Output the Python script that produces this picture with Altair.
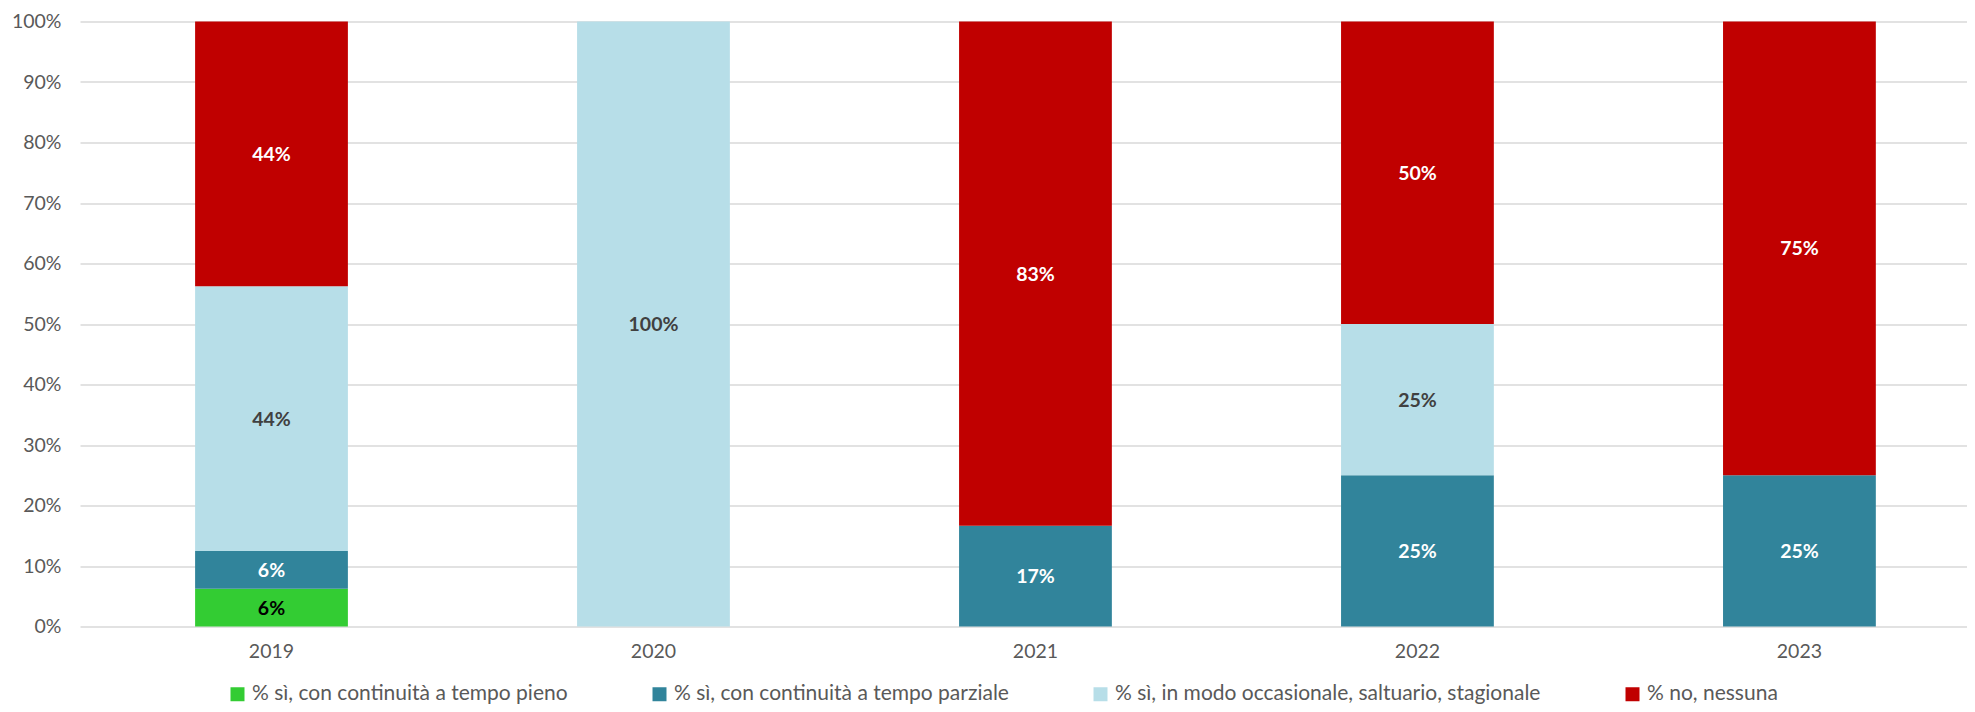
import altair as alt
import pandas as pd

# ---- data ----
years = ["2019", "2020", "2021", "2022", "2023"]
series = [
    "% sì, con continuità a tempo pieno",
    "% sì, con continuità a tempo parziale",
    "% sì, in modo occasionale, saltuario, stagionale",
    "% no, nessuna",
]
full_time = [0.0625, 0.0, 0.0, 0.0, 0.0]
part_time = [0.0625, 0.0, 0.1667, 0.25, 0.25]
occasional = [0.4375, 1.0, 0.0, 0.25, 0.0]
no_work = [0.4375, 0.0, 0.8333, 0.50, 0.75]
y_ticks = [0, 0.1, 0.2, 0.3, 0.4, 0.5, 0.6, 0.7, 0.8, 0.9, 1.0]

bar_colors = ["#33CC33", "#31849B", "#B7DEE8", "#C00000"]
label_colors = ["#000000", "#FFFFFF", "#404040", "#FFFFFF"]
FONT = "Lato"
GREY = "#595959"

rows = []
for si, (s, vals) in enumerate(zip(series, [full_time, part_time, occasional, no_work])):
    for yr, v in zip(years, vals):
        rows.append({"year": yr, "series": s, "order": si, "value": v})
df = pd.DataFrame(rows)

base = (
    alt.Chart(df)
    .transform_stack(
        stack="value",
        groupby=["year"],
        as_=["v0", "v1"],
        sort=[alt.SortField("order", order="ascending")],
    )
    .transform_filter("datum.value > 0")
)

x_enc = alt.X(
    "year:O",
    sort=years,
    scale=alt.Scale(paddingInner=0.6, paddingOuter=0.27, align=0.558),
    axis=alt.Axis(
        title=None, labelAngle=0, labelFontSize=19.5, labelColor=GREY, labelFont=FONT,
        ticks=False, tickSize=0, domain=False, labelPadding=16, grid=False,
    ),
)

y_scale = alt.Scale(domain=[0, 1], nice=False)

bars = base.mark_bar().encode(
    x=x_enc,
    y=alt.Y(
        "v0:Q",
        scale=y_scale,
        axis=alt.Axis(
            title=None, format=".0%", values=y_ticks, grid=True, gridColor="#D9D9D9",
            gridWidth=1.5, domain=False, ticks=False, tickSize=0, labelPadding=19,
            labelFontSize=19.5, labelColor=GREY, labelFont=FONT,
        ),
    ),
    y2="v1:Q",
    color=alt.Color(
        "series:N",
        sort=series,
        scale=alt.Scale(domain=series, range=bar_colors),
        legend=alt.Legend(
            title=None, orient="none", legendX=147, legendY=662,
            direction="horizontal", columns=4, symbolType="square", symbolSize=196,
            symbolStrokeWidth=0, labelFontSize=21, labelColor=GREY, labelFont=FONT,
            columnPadding=81, labelOffset=4, labelLimit=800,
        ),
    ),
)

labels = (
    base.transform_calculate(
        mid="(datum.v0 + datum.v1) / 2",
        lbl="format(datum.value, '.0%')",
    )
    .mark_text(fontWeight="bold", fontSize=19.5, font=FONT, dy=1)
    .encode(
        x=alt.X("year:O", sort=years),
        y=alt.Y("mid:Q", scale=y_scale),
        text="lbl:N",
        color=alt.Color(
            "series:N",
            scale=alt.Scale(domain=series, range=label_colors),
            legend=None,
        ),
    )
)

chart = (
    alt.layer(bars, labels)
    .resolve_scale(color="independent")
    .properties(
        width=1887,
        height=605,
        autosize=alt.AutoSizeParams(type="none"),
        padding={"left": 72, "top": 13.5, "right": 0, "bottom": 77.5},
        background="white",
    )
    .configure_view(stroke=None)
)

chart.save("out.html", embed_options={"renderer": "svg", "actions": False})
